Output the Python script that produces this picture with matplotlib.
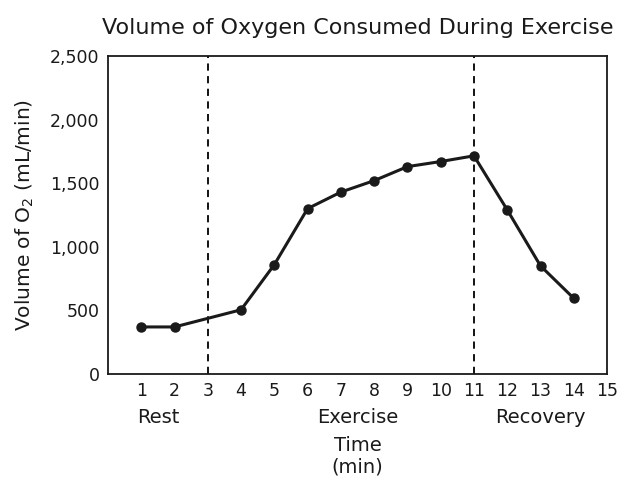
import matplotlib
matplotlib.use('Agg')
from matplotlib import pyplot as plt

# 数据
time_min = [1, 2, 4, 5, 6, 7, 8, 9, 10, 11, 12, 13, 14]
volume_o2 = [370, 370, 505, 860, 1300, 1430, 1520, 1630, 1670, 1715, 1290, 850, 595]
phase_names = ['Rest', 'Exercise', 'Recovery']
phase_centers = [1.5, 7.5, 13]
phase_bounds = [3, 11]
x_ticks = list(range(1, 16))
y_ticks = [0, 500, 1000, 1500, 2000, 2500]

plt.rcParams['font.family'] = ['DejaVu Sans']
ink = '#1a1a1a'

fig = plt.figure(figsize=(6.33, 4.95), dpi=100)
ax = fig.add_axes([0.1706, 0.2444, 0.7884, 0.6426])

for b in phase_bounds:
    ax.axvline(b, color='black', linestyle=(0, (4, 3)), linewidth=1.3, zorder=1)

ax.plot(time_min, volume_o2, color=ink, linewidth=2.2, marker='o',
        markersize=6.5, zorder=3)

ax.set_xlim(0, 15)
ax.set_ylim(0, 2500)
ax.set_xticks(x_ticks)
ax.set_yticks(y_ticks)
ax.set_yticklabels(['{:,}'.format(v) for v in y_ticks])
ax.tick_params(axis='both', length=0, labelsize=12.5, colors=ink, pad=6)
for s in ax.spines.values():
    s.set_linewidth(1.3)
    s.set_color(ink)

# 阶段标签
for name, c in zip(phase_names, phase_centers):
    ax.text(c, -338, name, ha='center', va='center', fontsize=14, color=ink)

ax.text(7.5, -558, 'Time', ha='center', va='center', fontsize=14, color=ink)
ax.text(7.5, -731, '(min)', ha='center', va='center', fontsize=14, color=ink)

ax.set_ylabel('Volume of O$_2$ (mL/min)', fontsize=14.5, color=ink, labelpad=10)
ax.set_title('Volume of Oxygen Consumed During Exercise', fontsize=16,
             color=ink, pad=16)

fig.savefig('out.png', dpi=100)
